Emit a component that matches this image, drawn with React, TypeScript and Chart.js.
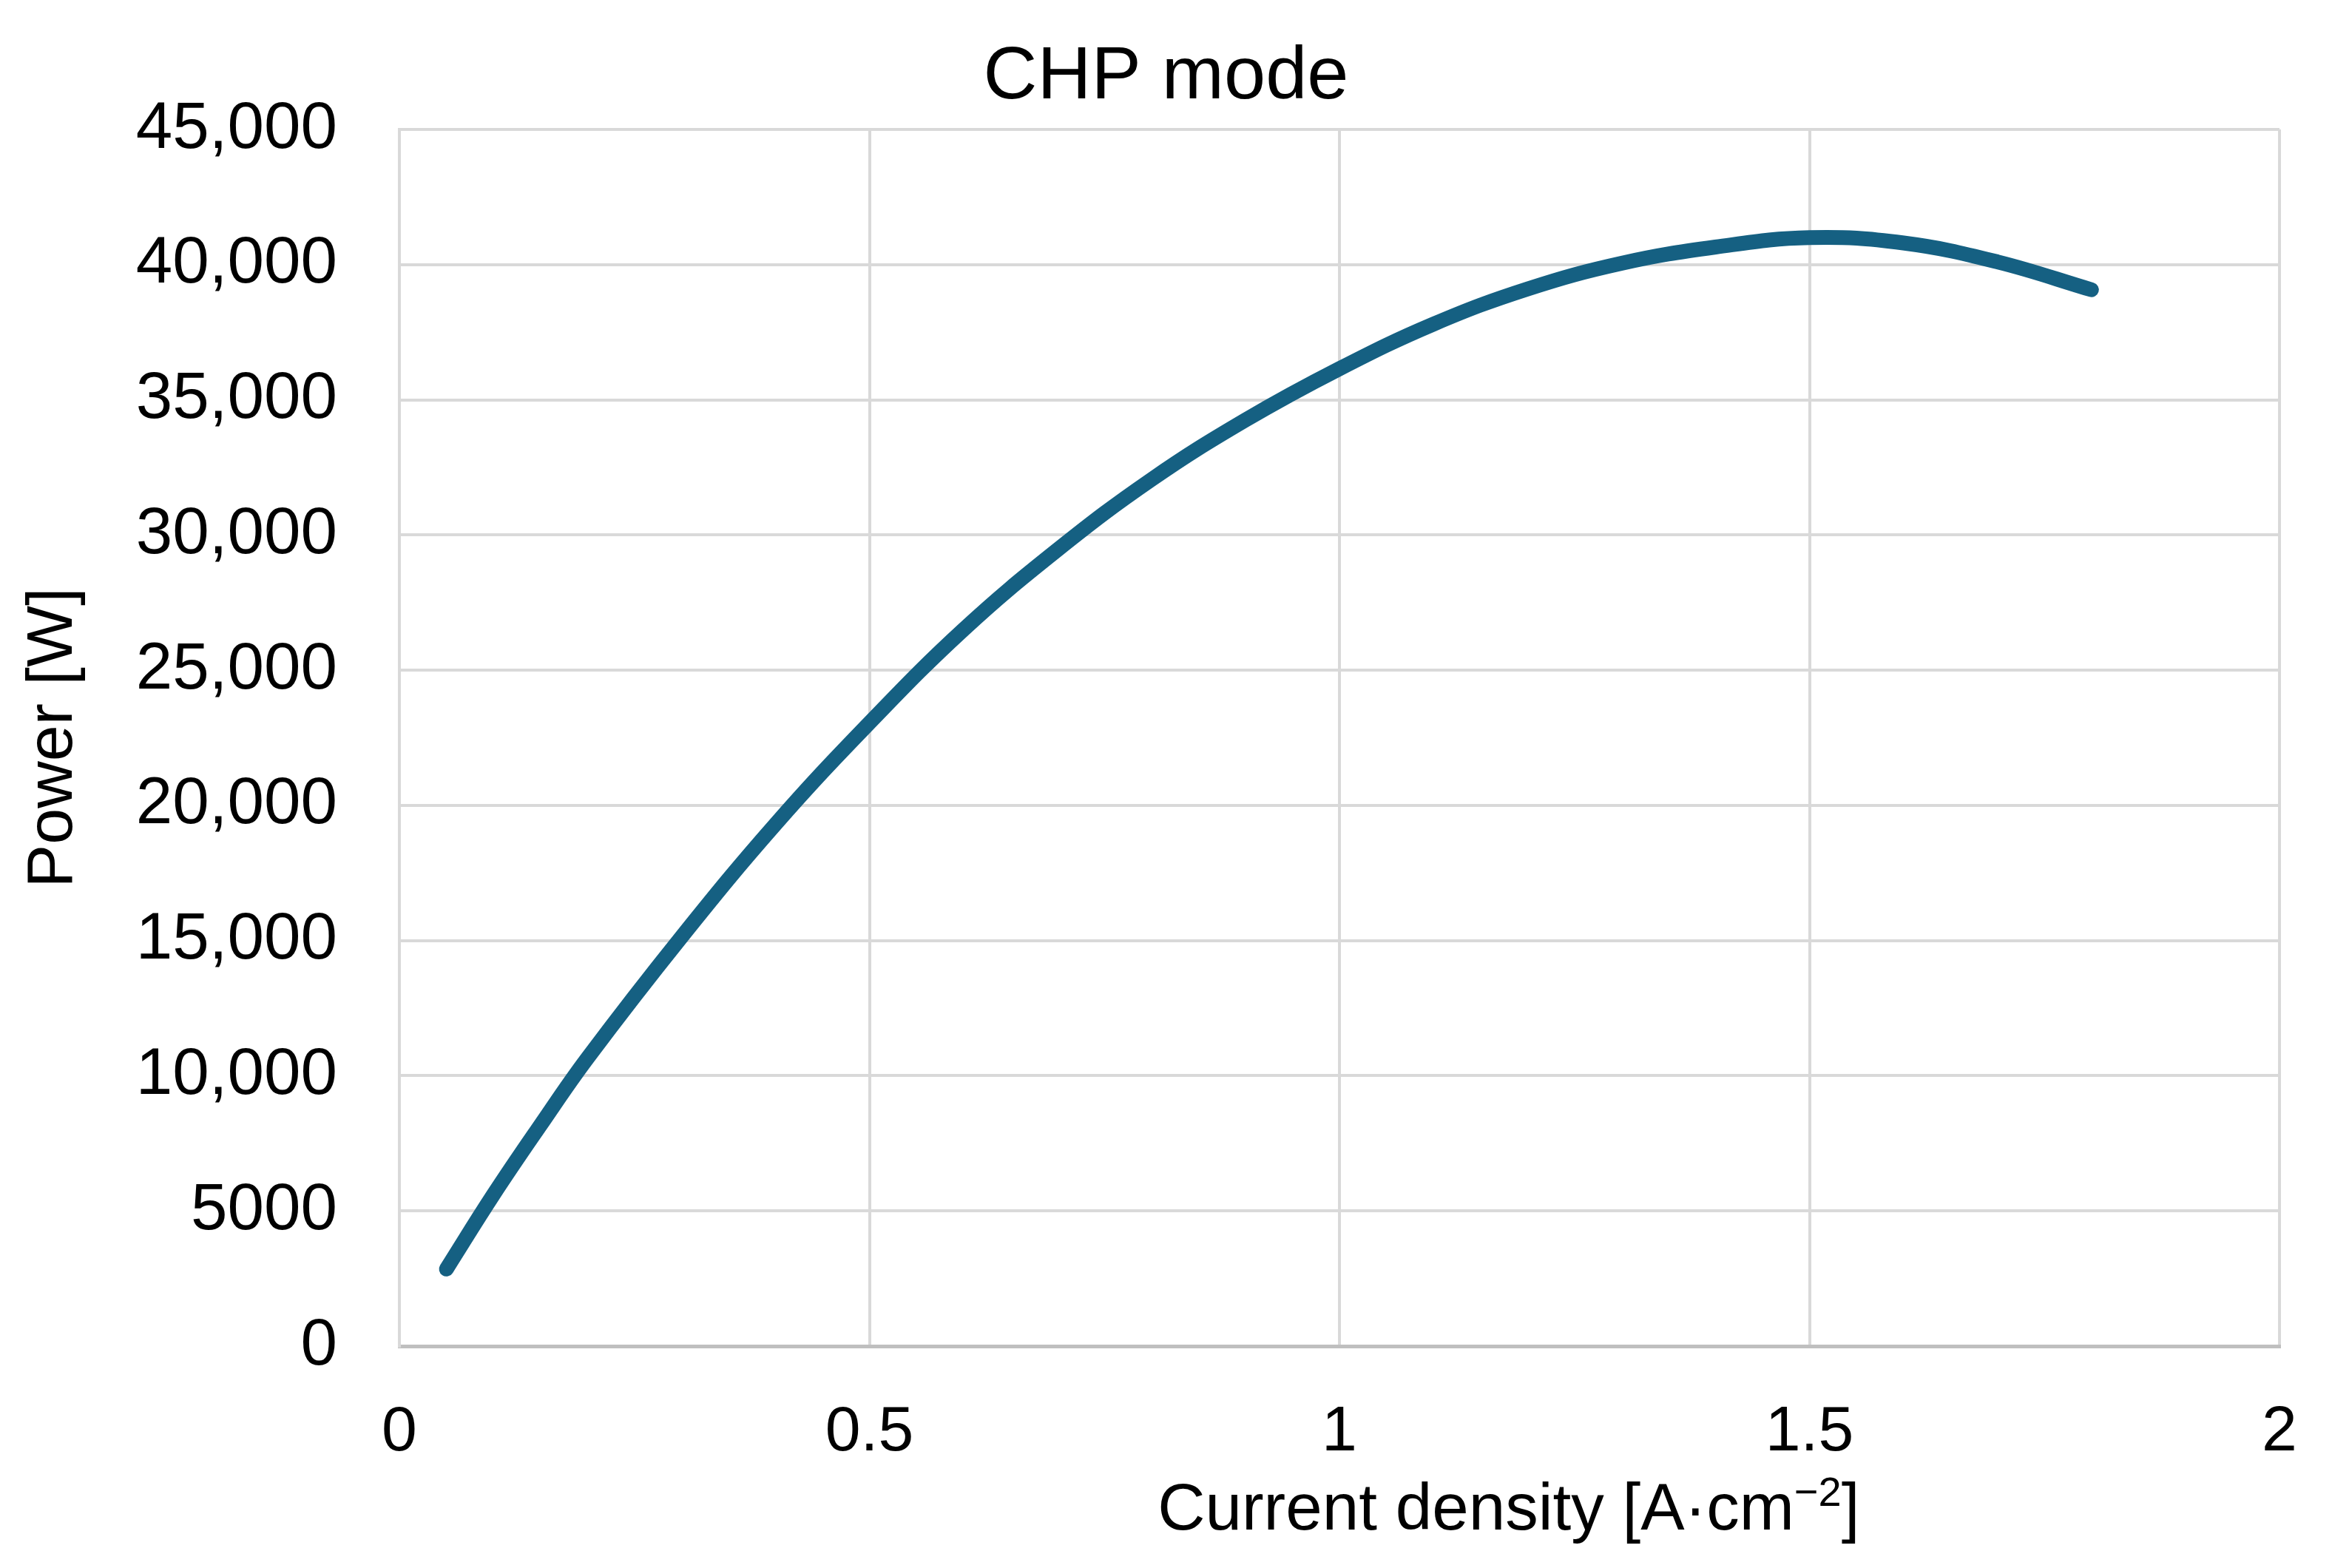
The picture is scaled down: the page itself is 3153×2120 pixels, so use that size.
import React, { useEffect, useRef } from "react";
import { Chart, registerables } from "chart.js";

Chart.register(...registerables);

// ---- Data ----
const currentDensity = [0.05, 0.1, 0.15, 0.2, 0.3, 0.4, 0.5, 0.6, 0.7, 0.8, 0.9, 1.0, 1.1, 1.2, 1.3, 1.4, 1.5, 1.6, 1.7, 1.8];
const powerW = [2850, 5600, 8170, 10650, 15130, 19300, 23050, 26500, 29450, 32050, 34250, 36150, 37800, 39100, 40050, 40650, 41000, 40800, 40100, 39070];

const xTickValues = [0, 0.5, 1, 1.5, 2];
const xTickLabels = ["0", "0.5", "1", "1.5", "2"];
const yTickValues = [0, 5000, 10000, 15000, 20000, 25000, 30000, 35000, 40000, 45000];
const yTickLabels = ["0", "5000", "10,000", "15,000", "20,000", "25,000", "30,000", "35,000", "40,000", "45,000"];

const chartTitle = "CHP mode";
const yAxisTitle = "Power [W]";
const xAxisTitleMain = "Current density [A·cm";
const xAxisTitleSup = "\u22122";
const xAxisTitleEnd = "]";

const FONT = '"Liberation Sans", Arial, sans-serif';
const LINE_COLOR = "#156082";
const GRID_COLOR = "#d9d9d9";

const textPlugin = {
  id: "textPlugin",
  afterDraw(chart: any) {
    const ctx = chart.ctx;
    const area = chart.chartArea;
    ctx.save();
    ctx.fillStyle = "#000";
    ctx.textBaseline = "alphabetic";

    // Chart title (centered on the whole canvas)
    ctx.textAlign = "center";
    ctx.font = `101px ${FONT}`;
    ctx.fillText(chartTitle, chart.width / 2, area.top - 42);

    // X axis title with superscript
    ctx.textAlign = "left";
    const mainFont = `89px ${FONT}`;
    const supFont = `56px ${FONT}`;
    ctx.font = mainFont;
    const w1 = ctx.measureText(xAxisTitleMain).width;
    const w3 = ctx.measureText(xAxisTitleEnd).width;
    ctx.font = supFont;
    const w2 = ctx.measureText(xAxisTitleSup).width;
    const total = w1 + w2 + w3;
    const cx = area.left + (area.right - area.left) * 0.59;
    const baseline = area.bottom + 248;
    let x = cx - total / 2;
    ctx.font = mainFont;
    ctx.fillText(xAxisTitleMain, x, baseline);
    x += w1;
    ctx.font = supFont;
    ctx.fillText(xAxisTitleSup, x, baseline - 32);
    x += w2;
    ctx.font = mainFont;
    ctx.fillText(xAxisTitleEnd, x, baseline);
    ctx.restore();
  },
};

const bgPlugin = {
  id: "bgPlugin",
  beforeDraw(chart: any) {
    const ctx = chart.ctx;
    ctx.save();
    ctx.fillStyle = "#ffffff";
    ctx.fillRect(0, 0, chart.width, chart.height);
    ctx.restore();
  },
};

export default function App() {
  const canvasRef = useRef<HTMLCanvasElement | null>(null);

  useEffect(() => {
    if (!canvasRef.current) return;
    const points = currentDensity.map((x, i) => ({ x, y: powerW[i] }));
    const chart = new Chart(canvasRef.current, {
      type: "line",
      data: {
        datasets: [
          {
            label: yAxisTitle,
            data: points,
            borderColor: LINE_COLOR,
            backgroundColor: LINE_COLOR,
            borderWidth: 20,
            borderCapStyle: "round",
            borderJoinStyle: "round",
            pointRadius: 0,
            tension: 0.4,
            fill: false,
          },
        ],
      },
      options: {
        responsive: false,
        animation: false,
        devicePixelRatio: 1,
        layout: { padding: { left: 0, right: 71, top: 175, bottom: 0 } },
        plugins: {
          legend: { display: false },
          tooltip: { enabled: false },
          title: { display: false },
        },
        scales: {
          x: {
            type: "linear",
            min: 0,
            max: 2,
            afterBuildTicks: (scale: any) => {
              scale.ticks = xTickValues.map((v) => ({ value: v }));
            },
            afterFit: (scale: any) => {
              scale.height = 300;
              scale.paddingLeft = 0;
              scale.paddingRight = 0;
            },
            ticks: {
              color: "#000",
              font: { family: FONT, size: 86 },
              padding: 66,
              maxRotation: 0,
              autoSkip: false,
              callback: (value: any) => {
                const idx = xTickValues.indexOf(Number(value));
                return idx >= 0 ? xTickLabels[idx] : "";
              },
            },
            grid: { color: GRID_COLOR, lineWidth: 4, drawTicks: false },
            border: { color: "#bfbfbf", width: 5 },
          },
          y: {
            type: "linear",
            min: 0,
            max: 45000,
            afterBuildTicks: (scale: any) => {
              scale.ticks = yTickValues.map((v) => ({ value: v }));
            },
            afterFit: (scale: any) => {
              scale.width = 540;
              scale.paddingTop = 0;
              scale.paddingBottom = 0;
            },
            ticks: {
              color: "#000",
              font: { family: FONT, size: 89 },
              padding: 84,
              autoSkip: false,
              callback: (value: any) => {
                const idx = yTickValues.indexOf(Number(value));
                return idx >= 0 ? yTickLabels[idx] : "";
              },
            },
            title: {
              display: true,
              text: yAxisTitle,
              color: "#000",
              font: { family: FONT, size: 88 },
              padding: { top: 20, bottom: 0 },
            },
            grid: { color: GRID_COLOR, lineWidth: 4, drawTicks: false },
            border: { color: GRID_COLOR, width: 4 },
          },
        },
      },
      plugins: [bgPlugin, textPlugin],
    } as any);
    return () => chart.destroy();
  }, []);

  return (
    <div style={{ position: "absolute", left: 0, top: 0, width: 3153, height: 2120, background: "#fff" }}>
      <canvas ref={canvasRef} width={3153} height={2120} style={{ display: "block", width: 3153, height: 2120 }} />
    </div>
  );
}
